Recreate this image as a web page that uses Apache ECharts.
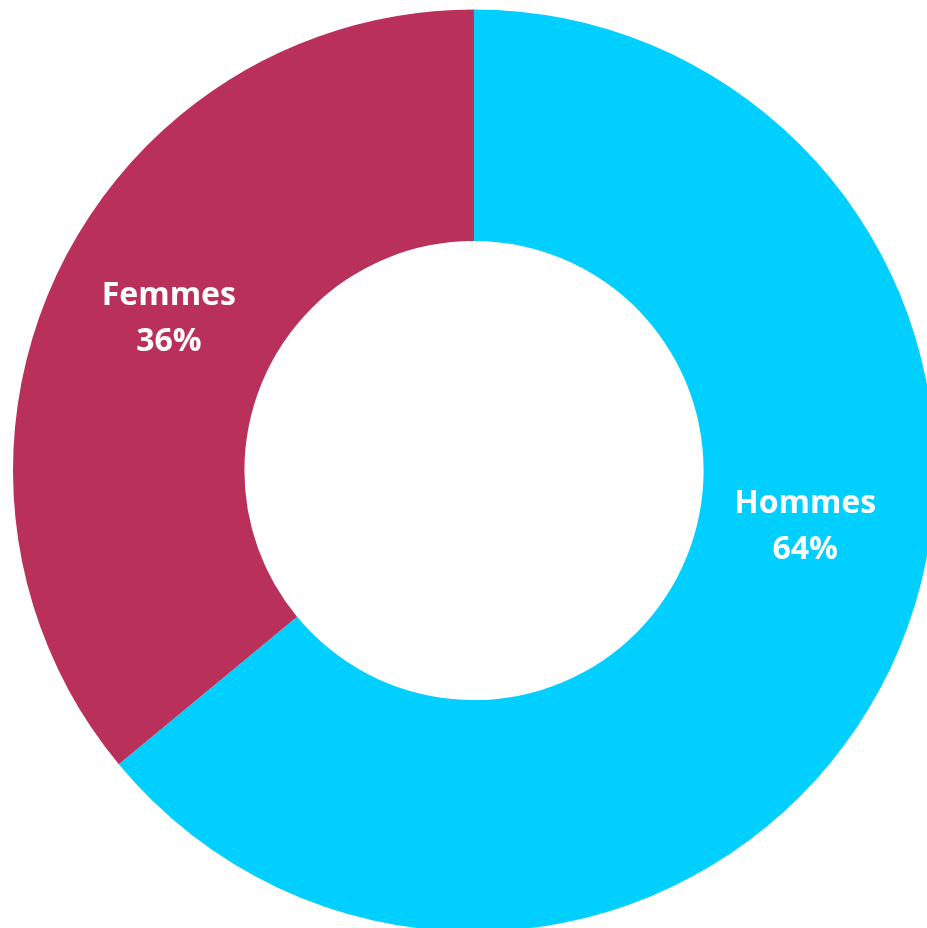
<!DOCTYPE html>
<html>
<head>
<meta charset="utf-8">
<script src="https://cdn.jsdelivr.net/npm/echarts@6/dist/echarts.min.js"></script>
<style>
html,body{margin:0;padding:0;background:#fff;}
#main{width:927px;height:928px;}
</style>
</head>
<body>
<div id="main"></div>
<script>
const categories = ['Hommes', 'Femmes'];
const values = [64, 36];
const colors = ['#00CFFF', '#B9305A'];
const labelOffsets = [[16, -92], [10, -3]];

const chart = echarts.init(document.getElementById('main'));
chart.setOption({
  animation: false,
  series: [{
    type: 'pie',
    center: [474, 470.5],
    radius: [229.6, 461],
    startAngle: 90,
    clockwise: true,
    avoidLabelOverlap: false,
    itemStyle: { borderWidth: 0 },
    label: {
      show: true,
      position: 'inside',
      formatter: '{b}\n{c}%',
      color: '#ffffff',
      fontFamily: 'Open Sans',
      fontWeight: 'bold',
      fontSize: 32,
      lineHeight: 46,
      align: 'center'
    },
    labelLine: { show: false },
    emphasis: { disabled: true },
    data: categories.map((name, i) => ({
      name: name,
      value: values[i],
      itemStyle: { color: colors[i] },
      label: { offset: labelOffsets[i] }
    }))
  }]
});
</script>
</body>
</html>
